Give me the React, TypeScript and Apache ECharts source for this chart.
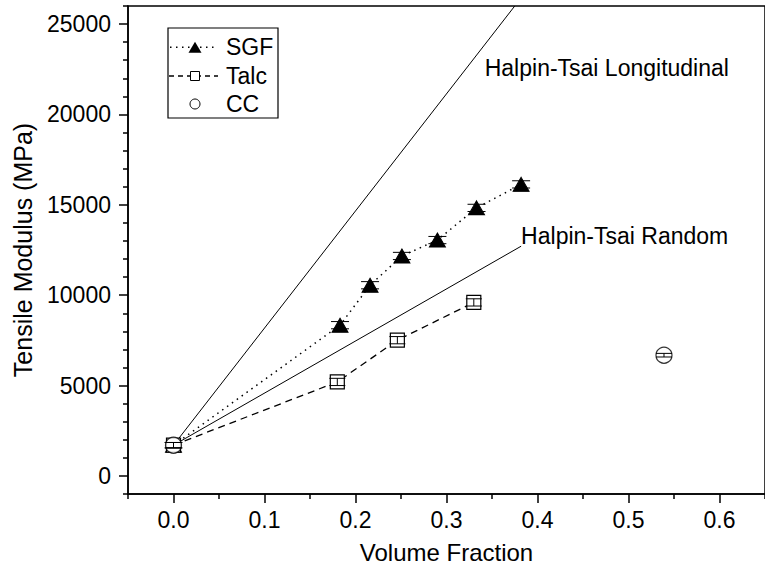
import React, { useEffect, useRef } from 'react';
import * as echarts from 'echarts';

// ---- data ----
const sgfX = [0, 0.183, 0.216, 0.251, 0.29, 0.333, 0.382];
const sgfY = [1700, 8340, 10550, 12170, 13050, 14830, 16130];
const sgfErr = [150, 200, 200, 200, 200, 200, 200];

const talcX = [0, 0.18, 0.246, 0.33];
const talcY = [1700, 5200, 7510, 9600];
const talcErr = [150, 200, 200, 200];

const ccX = [0, 0.539];
const ccY = [1700, 6680];
const ccErr = [150, 100];

const htLongX = [0, 0.375];
const htLongY = [1700, 26000];
const htRandX = [0, 0.382];
const htRandY = [1700, 12710];

const xTicks = [0, 0.1, 0.2, 0.3, 0.4, 0.5, 0.6];
const xMinorTicks = [-0.05, 0.05, 0.15, 0.25, 0.35, 0.45, 0.55, 0.65];
const yTicks = [0, 5000, 10000, 15000, 20000, 25000];
const yMinorTicks = [
  -1000, 1000, 2000, 3000, 4000, 6000, 7000, 8000, 9000, 11000, 12000, 13000, 14000,
  16000, 17000, 18000, 19000, 21000, 22000, 23000, 24000, 26000,
];

const labelLong = { text: 'Halpin-Tsai Longitudinal', x: 0.342, y: 22560 };
const labelRand = { text: 'Halpin-Tsai Random', x: 0.382, y: 13270 };

const FONT = "'Liberation Sans', Arial, sans-serif";
const FS = 23;

const zip = (xs: number[], ys: number[]) => xs.map((x, i) => [x, ys[i]]);
const zip3 = (xs: number[], ys: number[], es: number[]) => xs.map((x, i) => [x, ys[i], es[i]]);

function errorSeries(name: string, data: number[][], cap: number, z: number) {
  return {
    type: 'custom',
    name,
    z,
    silent: true,
    data,
    encode: { x: 0, y: 1 },
    renderItem: (params: any, api: any) => {
      const x = api.value(0);
      const y = api.value(1);
      const e = api.value(2);
      const top = api.coord([x, y + e]);
      const bot = api.coord([x, y - e]);
      const h = cap / 2;
      const st = { stroke: '#000', lineWidth: 1 };
      return {
        type: 'group',
        children: [
          { type: 'line', shape: { x1: top[0], y1: top[1], x2: bot[0], y2: bot[1] }, style: st },
          { type: 'line', shape: { x1: top[0] - h, y1: top[1], x2: top[0] + h, y2: top[1] }, style: st },
          { type: 'line', shape: { x1: bot[0] - h, y1: bot[1], x2: bot[0] + h, y2: bot[1] }, style: st },
        ],
      };
    },
  };
}

export default function App() {
  const ref = useRef<HTMLDivElement>(null);
  useEffect(() => {
    if (!ref.current) return;
    const chart = echarts.init(ref.current, undefined, { renderer: 'svg' });
    const axisLine = { show: true, onZero: false, lineStyle: { color: '#000', width: 1.5 } };
    const noLine = { show: false, onZero: false };
    const labelStyle = { color: '#000', fontSize: FS, fontFamily: FONT };
    const option: any = {
      animation: false,
      backgroundColor: '#fff',
      grid: {
        left: 128,
        right: -13,
        top: 6,
        bottom: 79,
        show: true,
        borderColor: '#000',
        borderWidth: 1.5,
        backgroundColor: 'transparent',
      },
      xAxis: [
        {
          type: 'value',
          min: -0.05,
          max: 0.65,
          splitNumber: 7,
          position: 'bottom',
          name: 'Volume Fraction',
          nameLocation: 'middle',
          nameGap: 46,
          nameTextStyle: { color: '#000', fontSize: 24, fontFamily: FONT },
          axisLine,
          axisTick: { show: true, inside: false, length: 9, customValues: xTicks, lineStyle: { color: '#000', width: 1.5 } },
          axisLabel: {
            ...labelStyle,
            margin: 14,
            customValues: xTicks,
            formatter: (v: number) => v.toFixed(1),
          },
          splitLine: { show: false },
        },
        {
          type: 'value',
          min: -0.05,
          max: 0.65,
          position: 'bottom',
          axisLine: noLine,
          axisTick: { show: true, inside: false, length: 5, customValues: xMinorTicks, lineStyle: { color: '#000', width: 1.5 } },
          axisLabel: { show: false },
          splitLine: { show: false },
        },
      ],
      yAxis: [
        {
          type: 'value',
          min: -1000,
          max: 26000,
          splitNumber: 5,
          position: 'left',
          name: 'Tensile Modulus (MPa)',
          nameLocation: 'middle',
          nameGap: 93,
          nameTextStyle: { color: '#000', fontSize: 25, fontFamily: FONT },
          axisLine,
          axisTick: { show: true, inside: false, length: 9, customValues: yTicks, lineStyle: { color: '#000', width: 1.5 } },
          axisLabel: {
            ...labelStyle,
            margin: 17,
            customValues: yTicks,
            formatter: (v: number) => String(v),
          },
          splitLine: { show: false },
        },
        {
          type: 'value',
          min: -1000,
          max: 26000,
          position: 'left',
          axisLine: noLine,
          axisTick: { show: true, inside: false, length: 5, customValues: yMinorTicks, lineStyle: { color: '#000', width: 1.5 } },
          axisLabel: { show: false },
          splitLine: { show: false },
        },
      ],
      series: [
        {
          type: 'line',
          name: 'Halpin-Tsai Longitudinal',
          data: zip(htLongX, htLongY),
          showSymbol: false,
          symbol: 'none',
          lineStyle: { color: '#000', width: 1 },
          z: 1,
        },
        {
          type: 'line',
          name: 'Halpin-Tsai Random',
          data: zip(htRandX, htRandY),
          showSymbol: false,
          symbol: 'none',
          lineStyle: { color: '#000', width: 1 },
          z: 1,
        },
        {
          type: 'line',
          name: 'SGF',
          data: zip(sgfX, sgfY),
          symbol: 'triangle',
          symbolSize: [16, 14],
          itemStyle: { color: '#000', borderColor: '#000', borderWidth: 1 },
          lineStyle: { color: '#000', width: 1.5, type: [1.5, 4.5] },
          z: 2,
        },
        {
          type: 'line',
          name: 'Talc',
          data: zip(talcX, talcY),
          symbol: 'rect',
          symbolSize: 14,
          itemStyle: { color: '#fff', borderColor: '#000', borderWidth: 1.2 },
          lineStyle: { color: '#000', width: 1.3, type: [7, 5] },
          z: 3,
        },
        {
          type: 'scatter',
          name: 'CC',
          data: zip(ccX, ccY),
          symbol: 'circle',
          symbolSize: 16,
          itemStyle: { color: '#fff', borderColor: '#000', borderWidth: 1.2 },
          z: 4,
        },
        errorSeries('SGF error', zip3(sgfX, sgfY, sgfErr), 18, 5),
        errorSeries('Talc error', zip3(talcX, talcY, talcErr), 16, 5),
        errorSeries('CC error', zip3(ccX, ccY, ccErr), 16, 5),
      ],
    };
    chart.setOption(option);

    const pL = chart.convertToPixel({ gridIndex: 0 }, [labelLong.x, labelLong.y]) as number[];
    const pR = chart.convertToPixel({ gridIndex: 0 }, [labelRand.x, labelRand.y]) as number[];
    const txt = { fill: '#000', fontSize: FS, fontFamily: FONT };
    const lx = 168;
    const ly = 28;
    const rows = [47.3, 76, 104];
    chart.setOption({
      graphic: {
        elements: [
          { type: 'text', x: pL[0], y: pL[1], style: { ...txt, text: labelLong.text, verticalAlign: 'middle', align: 'left' } },
          { type: 'text', x: pR[0], y: pR[1], style: { ...txt, text: labelRand.text, verticalAlign: 'middle', align: 'left' } },
          {
            type: 'group',
            z: 100,
            children: [
              { type: 'rect', shape: { x: lx, y: ly, width: 110, height: 90 }, style: { fill: '#fff', stroke: '#000', lineWidth: 1.2 } },
              { type: 'line', shape: { x1: lx + 2, y1: rows[0], x2: lx + 50, y2: rows[0] }, style: { stroke: '#000', lineWidth: 1.5, lineDash: [1.5, 4.5] } },
              { type: 'polygon', shape: { points: [[lx + 20.5, rows[0] + 5.5], [lx + 27, rows[0] - 5.5], [lx + 33.5, rows[0] + 5.5]] }, style: { fill: '#000' } },
              { type: 'text', x: lx + 58, y: rows[0], style: { ...txt, text: 'SGF', verticalAlign: 'middle' } },
              { type: 'line', shape: { x1: lx + 1, y1: rows[1], x2: lx + 50, y2: rows[1] }, style: { stroke: '#000', lineWidth: 1.3, lineDash: [5, 4] } },
              { type: 'rect', shape: { x: lx + 22.5, y: rows[1] - 4.5, width: 9, height: 9 }, style: { fill: '#fff', stroke: '#000', lineWidth: 1 } },
              { type: 'text', x: lx + 58, y: rows[1], style: { ...txt, text: 'Talc', verticalAlign: 'middle' } },
              { type: 'circle', shape: { cx: lx + 27, cy: rows[2], r: 5 }, style: { fill: '#fff', stroke: '#000', lineWidth: 1 } },
              { type: 'text', x: lx + 58, y: rows[2], style: { ...txt, text: 'CC', verticalAlign: 'middle' } },
            ],
          },
        ],
      },
    });

    return () => chart.dispose();
  }, []);
  return <div ref={ref} style={{ position: 'fixed', left: 0, top: 0, width: 765, height: 573 }} />;
}
